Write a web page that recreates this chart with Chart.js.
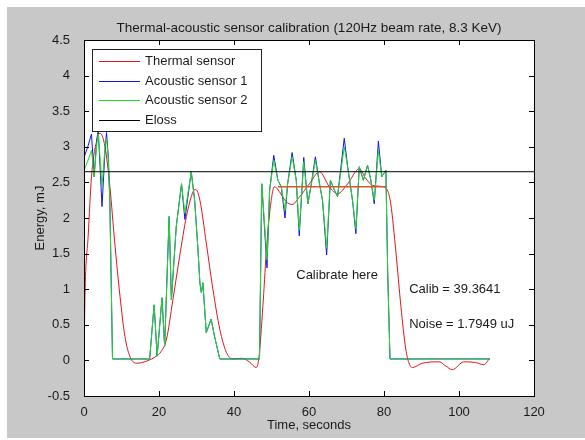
<!DOCTYPE html>
<html>
<head>
<meta charset="utf-8">
<script src="https://cdn.jsdelivr.net/npm/chart.js@4.4.0/dist/chart.umd.min.js"></script>
<style>
  html, body { margin: 0; padding: 0; background: #fff; }
  #plot { display: block; }
</style>
</head>
<body>
<canvas id="plot" width="585" height="440"></canvas>
<script>
// Thermal-acoustic sensor calibration

const timeThermal = [0, 0.3, 1.1, 2.0, 3.4, 4.3, 5.6, 6.9, 8.2, 9.6, 10.9, 12.2, 14.0, 16.7, 19.3, 20.5, 22.0, 23.7, 25.5, 27.3, 29.1, 29.8, 30.9, 32.6, 34.4, 36.2, 38.0, 39.7, 42.0, 44.1, 45.9, 46.6, 47.7, 48.6, 49.5, 50.8, 52.1, 53.9, 55.5, 57.4, 60.1, 62.8, 65.4, 67.6, 70.3, 73.4, 75.2, 76.9, 79.6, 80.9, 81.8, 83.2, 84.5, 85.8, 86.6, 87.6, 90.2, 94.7, 96.5, 98.2, 101.3, 104.4, 106.6, 108.2];
const thermal     = [0.05, 1.0, 1.74, 2.58, 3.09, 3.19, 3.0, 2.44, 1.65, 0.9, 0.34, 0.06, -0.04, -0.01, 0.06, 0.12, 0.3, 0.85, 1.46, 2.02, 2.37, 2.4, 2.25, 1.65, 0.99, 0.44, 0.11, 0.02, 0.03, -0.02, -0.1, 0.02, 0.76, 1.51, 2.07, 2.44, 2.37, 2.23, 2.19, 2.29, 2.48, 2.65, 2.44, 2.34, 2.48, 2.69, 2.55, 2.46, 2.44, 2.39, 2.2, 1.51, 0.76, 0.16, -0.03, -0.1, -0.04, -0.02, -0.08, -0.13, -0.02, -0.03, -0.06, 0.03];

const timeAcoustic = [0, 1.0, 2.0, 2.7, 3.4, 3.8, 4.4, 4.8, 5.6, 6.0, 6.5, 6.9, 7.6, 10, 14, 17.5, 18.7, 19.5, 20.8, 21.5, 22.7, 23.3, 24.6, 26.0, 26.9, 28.6, 29.5, 30.4, 30.9, 31.3, 31.7, 32.6, 33.9, 34.8, 36.2, 40, 44, 46.8, 47.4, 48.8, 49.5, 50.6, 51.7, 52.6, 53.6, 54.3, 55.5, 56.6, 57.4, 58.6, 59.7, 60.5, 61.7, 62.8, 63.6, 64.7, 65.7, 66.8, 67.6, 69.4, 70.3, 71.6, 72.5, 73.4, 74.5, 75.6, 76.5, 77.4, 78.5, 79.4, 80.5, 81.0, 81.6, 85, 90, 95, 100, 105, 108.2];
const acoustic1    = [2.85, 3.0, 3.18, 2.58, 3.1, 3.23, 2.6, 2.16, 2.95, 3.2, 2.85, 2.2, 0.02, 0.02, 0.02, 0.02, 0.78, 0.06, 0.88, 0.2, 2.02, 0.85, 1.88, 2.48, 1.98, 2.65, 2.25, 1.55, 1.09, 0.95, 1.09, 0.39, 0.58, 0.34, 0.02, 0.02, 0.02, 0.02, 2.48, 1.3, 2.39, 2.88, 2.53, 2.44, 2.0, 2.48, 2.92, 2.53, 1.75, 2.85, 2.2, 2.44, 2.86, 2.48, 2.25, 1.48, 2.53, 2.39, 2.3, 3.12, 2.72, 2.25, 1.78, 2.72, 2.53, 2.74, 2.53, 2.2, 3.08, 2.58, 2.67, 1.2, 0.02, 0.02, 0.02, 0.02, 0.02, 0.02, 0.02];
const acoustic2    = [2.67, 2.8, 2.95, 2.58, 3.04, 3.18, 2.76, 2.44, 3.0, 3.12, 2.81, 2.2, 0.02, 0.02, 0.02, 0.02, 0.78, 0.06, 0.88, 0.2, 2.02, 0.85, 1.88, 2.48, 2.07, 2.65, 2.25, 1.55, 1.09, 0.95, 1.09, 0.39, 0.58, 0.34, 0.02, 0.02, 0.02, 0.02, 2.48, 1.41, 2.39, 2.81, 2.53, 2.44, 2.11, 2.48, 2.86, 2.53, 1.83, 2.79, 2.2, 2.44, 2.81, 2.48, 2.25, 1.58, 2.53, 2.39, 2.3, 3.0, 2.72, 2.25, 1.85, 2.72, 2.53, 2.74, 2.53, 2.25, 2.95, 2.58, 2.67, 1.2, 0.02, 0.02, 0.02, 0.02, 0.02, 0.02, 0.02];

const timeEloss = [0, 120];
const eloss     = [2.65, 2.65];

const timeCalib  = [51.7, 80.5];
const calibLevel = [2.44, 2.44];

const xTicks = [0, 20, 40, 60, 80, 100, 120];
const yTicks = [-0.5, 0, 0.5, 1, 1.5, 2, 2.5, 3, 3.5, 4, 4.5];

const titleText = 'Thermal-acoustic sensor calibration (120Hz beam rate, 8.3 KeV)';
const xLabel = 'Time, seconds';
const yLabel = 'Energy, mJ';
// [text, x, y] in data units
const notes = [
  ['Calibrate here', 56.6, 1.2],
  ['Calib = 39.3641', 86.7, 0.99],
  ['Noise = 1.7949 uJ', 86.7, 0.5]
];

const FONT = '"Liberation Sans", Arial, sans-serif';
const INK = '#1a1a1a';

const pts = (xs, ys) => xs.map((x, i) => ({ x, y: ys[i] }));

// figure background, axes box, inward ticks, legend and text
const matlabLook = {
  id: 'matlabLook',
  beforeDraw(chart) {
    const { ctx, chartArea: a } = chart;
    ctx.save();
    ctx.fillStyle = '#fff';
    ctx.fillRect(0, 0, chart.width, chart.height);
    ctx.fillStyle = '#c8c8c8';
    ctx.fillRect(7, 7, chart.width - 7, chart.height - 9);
    ctx.fillStyle = '#fff';
    ctx.fillRect(a.left, a.top, a.right - a.left, a.bottom - a.top);
    ctx.restore();
  },
  afterDraw(chart) {
    const { ctx, chartArea: a, scales: { x, y } } = chart;
    ctx.save();
    ctx.strokeStyle = '#000';
    ctx.lineWidth = 1;
    ctx.beginPath();
    xTicks.forEach(v => {
      const px = Math.round(x.getPixelForValue(v)) + 0.5;
      ctx.moveTo(px, a.bottom); ctx.lineTo(px, a.bottom - 5);
      ctx.moveTo(px, a.top); ctx.lineTo(px, a.top + 5);
    });
    yTicks.forEach(v => {
      const py = Math.round(y.getPixelForValue(v)) + 0.5;
      ctx.moveTo(a.left, py); ctx.lineTo(a.left + 5, py);
      ctx.moveTo(a.right, py); ctx.lineTo(a.right - 5, py);
    });
    ctx.stroke();
    ctx.strokeRect(Math.round(a.left) + 0.5, Math.round(a.top) + 0.5, Math.round(a.right - a.left), Math.round(a.bottom - a.top));

    // legend
    const items = chart.data.datasets.filter(d => d.inLegend);
    const lx = 92, ly = 49, lw = 169, lh = 82;
    ctx.fillStyle = '#fff';
    ctx.fillRect(lx, ly, lw, lh);
    ctx.strokeStyle = '#222';
    ctx.strokeRect(lx + 0.5, ly + 0.5, lw, lh);
    ctx.font = '13px ' + FONT;
    ctx.textBaseline = 'middle';
    ctx.textAlign = 'left';
    items.forEach((d, i) => {
      const yy = Math.round(61 + i * 19.5) + 0.5;
      ctx.strokeStyle = d.borderColor;
      ctx.beginPath();
      ctx.moveTo(99, yy); ctx.lineTo(140, yy);
      ctx.stroke();
      ctx.fillStyle = INK;
      ctx.fillText(d.label, 145, yy);
    });

    // annotations
    notes.forEach(([t, nx, ny]) => {
      ctx.fillText(t, x.getPixelForValue(nx), y.getPixelForValue(ny));
    });

    // title and axis labels
    const cx = (a.left + a.right) / 2;
    ctx.textAlign = 'center';
    ctx.fillText(xLabel, cx, 425);
    ctx.font = '13.5px ' + FONT;
    ctx.fillText(titleText, cx, 28);
    ctx.font = '13px ' + FONT;
    ctx.translate(40, (a.top + a.bottom) / 2);
    ctx.rotate(-Math.PI / 2);
    ctx.fillText(yLabel, 0, 0);
    ctx.restore();
  }
};

const line = (label, xs, ys, color, order, inLegend, extra) => Object.assign({
  label, data: pts(xs, ys), borderColor: color, borderWidth: 1,
  pointRadius: 0, tension: 0, fill: false, order, inLegend
}, extra || {});

new Chart(document.getElementById('plot'), {
  type: 'line',
  data: {
    datasets: [
      line('Thermal sensor', timeThermal, thermal, '#e3141c', 4, true, { cubicInterpolationMode: 'monotone' }),
      line('Acoustic sensor 1', timeAcoustic, acoustic1, '#1414e0', 3, true),
      line('Acoustic sensor 2', timeAcoustic, acoustic2, '#22dd22', 2, true),
      line('Eloss', timeEloss, eloss, '#000000', 1, true),
      line('calib', timeCalib, calibLevel, '#d9552e', 0, false, { borderWidth: 1.5 })
    ]
  },
  options: {
    responsive: false,
    animation: false,
    devicePixelRatio: 1,
    layout: { padding: { top: 40, right: 51, left: 0, bottom: 0 } },
    plugins: { legend: { display: false }, tooltip: { enabled: false } },
    scales: {
      x: {
        type: 'linear', min: 0, max: 120,
        grid: { display: false }, border: { display: false },
        afterBuildTicks: s => { s.ticks = xTicks.map(v => ({ value: v })); },
        afterFit: s => { s.height = 44; },
        ticks: { color: INK, font: { family: FONT, size: 13 }, padding: 1, maxRotation: 0, autoSkip: false }
      },
      y: {
        type: 'linear', min: -0.5, max: 4.5,
        grid: { display: false }, border: { display: false },
        afterBuildTicks: s => { s.ticks = yTicks.map(v => ({ value: v })); },
        afterFit: s => { s.width = 84; },
        ticks: { color: INK, font: { family: FONT, size: 13 }, padding: 6, autoSkip: false, callback: v => String(+v.toFixed(1)) }
      }
    }
  },
  plugins: [matlabLook]
});
</script>
</body>
</html>
